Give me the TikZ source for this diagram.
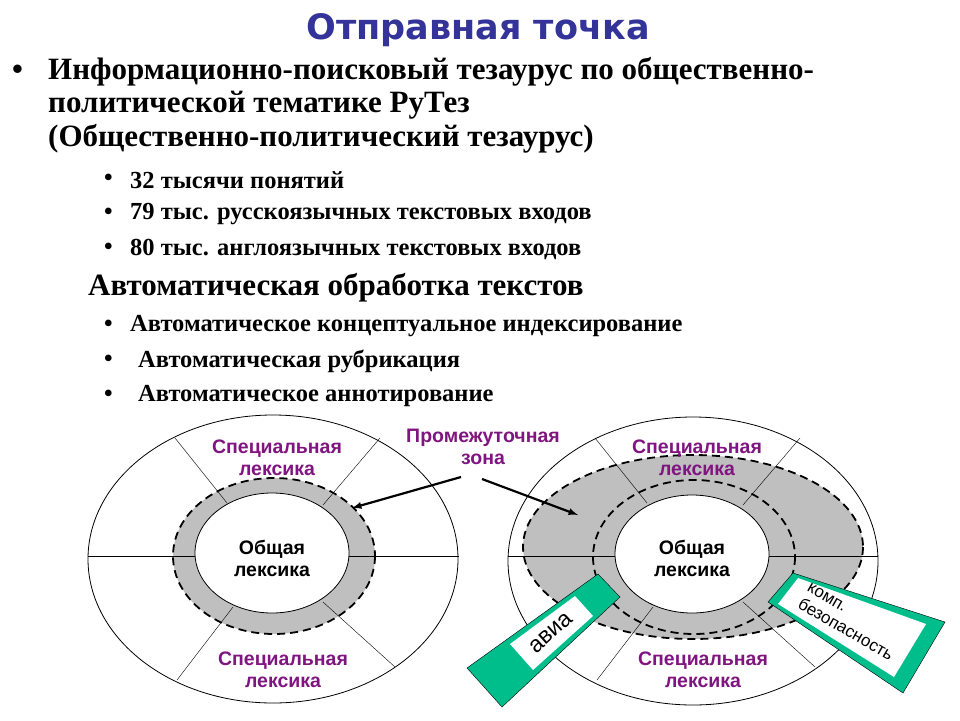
\documentclass[tikz,border=0pt]{standalone}
\usepackage{fontspec}
\setmainfont{Liberation Serif}
\newfontfamily\sansf{Liberation Sans}
\newfontfamily\titlef{DejaVu Sans}
\definecolor{violet1}{RGB}{128,20,128}
\definecolor{titleblue}{RGB}{51,51,153}
\definecolor{tagg}{RGB}{0,190,140}
\begin{document}
\begin{tikzpicture}[x=1pt,y=-1pt,
  lbl/.style={font=\sansf\bfseries\fontsize{19.5}{22}\selectfont,align=center,text=black},
  spec/.style={lbl,text=violet1},
  big/.style={font=\bfseries\fontsize{31}{34}\selectfont,anchor=west,inner sep=0},
  small/.style={font=\bfseries\fontsize{24.5}{27}\selectfont,anchor=west,inner sep=0},
  spoke/.style={thin},
  dashring/.style={line width=1.8pt,dash pattern=on 8pt off 5pt},
  tagbox/.style={fill=tagg,draw=black,thin}]
\useasboundingbox (0,0) rectangle (960,720);
\fill[white] (0,0) rectangle (960,720);
% title and text
\node[font=\titlef\bfseries\fontsize{35}{38}\selectfont,text=titleblue] (title) at (478,30) {Отправная точка};
\node[big] (b0) at (12,72) {•};
\node[big] (t1) at (48,72) {Информационно-поисковый тезаурус по общественно-};
\node[big] (t2) at (48,105) {политической тематике РуТез};
\node[big] (t3) at (48,139) {(Общественно-политический тезаурус)};
\node[small] (b1) at (104,180) {•};
\node[small] (s1) at (130,180) {32 тысячи понятий};
\node[small] (b2) at (104,214) {•};
\node[small] (s2) at (130,214) {79 тыс. русскоязычных текстовых входов};
\node[small] (b3) at (104,249) {•};
\node[small] (s3) at (130,249) {80 тыс. англоязычных текстовых входов};
\node[big] (h2) at (88,288) {Автоматическая обработка текстов};
\node[small] (b4) at (104,326) {•};
\node[small] (s4) at (130,326) {Автоматическое концептуальное индексирование};
\node[small] (b5) at (104,361) {•};
\node[small] (s5) at (138,361) {Автоматическая рубрикация};
\node[small] (b6) at (104,396) {•};
\node[small] (s6) at (138,396) {Автоматическое аннотирование};
% left diagram
\draw[thick] (273,559) ellipse [x radius=185,y radius=144];
\fill[gray!50] (274,556) ellipse [x radius=101,y radius=78];
\draw[spoke] (88,556)--(195,556) (349,556)--(459,556);
\draw[spoke] (175,438)--(227,503) (380,438)--(323,505) (177,680)--(233,607) (395,667)--(323,602);
\draw[dashring] (274,556) ellipse [x radius=101,y radius=78];
\draw[thick,fill=white] (272,553) ellipse [x radius=77,y radius=60];
\node[lbl] (gl) at (272,558) {Общая\\лексика};
\node[spec] (sl1) at (277,458) {Специальная\\лексика};
\node[spec] (sl2) at (283,670) {Специальная\\лексика};
% right diagram
\draw[thick] (693,561) ellipse [x radius=185,y radius=144];
\fill[gray!50] (693,547) ellipse [x radius=170,y radius=92];
\draw[spoke] (508,556)--(615,556) (769,556)--(878,556);
\draw[spoke] (595,438)--(647,503) (800,438)--(743,505) (597,680)--(653,607) (815,667)--(743,602);
\draw[dashring] (693,547) ellipse [x radius=170,y radius=92];
\draw[dashring] (694,557) ellipse [x radius=101,y radius=77];
\draw[thick,fill=white] (692,554) ellipse [x radius=77,y radius=59];
\node[lbl] (gr) at (692,558) {Общая\\лексика};
\node[spec] (sr1) at (697,458) {Специальная\\лексика};
\node[spec] (sr2) at (703,670) {Специальная\\лексика};
% middle label and arrows
\node[spec] (mid) at (483,447) {Промежуточная\\зона};
\coordinate (ml) at (352,508);
\coordinate (mr) at (578,515);
\draw[line width=2.2pt,-latex] (461,477) -- (ml);
\draw[line width=2.2pt,-latex] (482,479) -- (mr);
% tags
\draw[tagbox] (467,668)--(598,574)--(620,597)--(502,707)--cycle;
\fill[white] (510,644)--(575,596)--(593,616)--(533,670)--cycle;
\node[font=\sansf\fontsize{23}{24}\selectfont,rotate=42,inner sep=0] (avia) at (551,633) {авиа};
\draw[tagbox] (768,602)--(793,573)--(945,622)--(903,693)--cycle;
\fill[white] (778,604)--(798,578)--(926,624)--(894,677)--cycle;
\node[font=\sansf\fontsize{17}{19}\selectfont,rotate=-30,align=left,inner sep=0] (komp) at (850,622) {комп.\\безопасность};
\end{tikzpicture}
\end{document}
